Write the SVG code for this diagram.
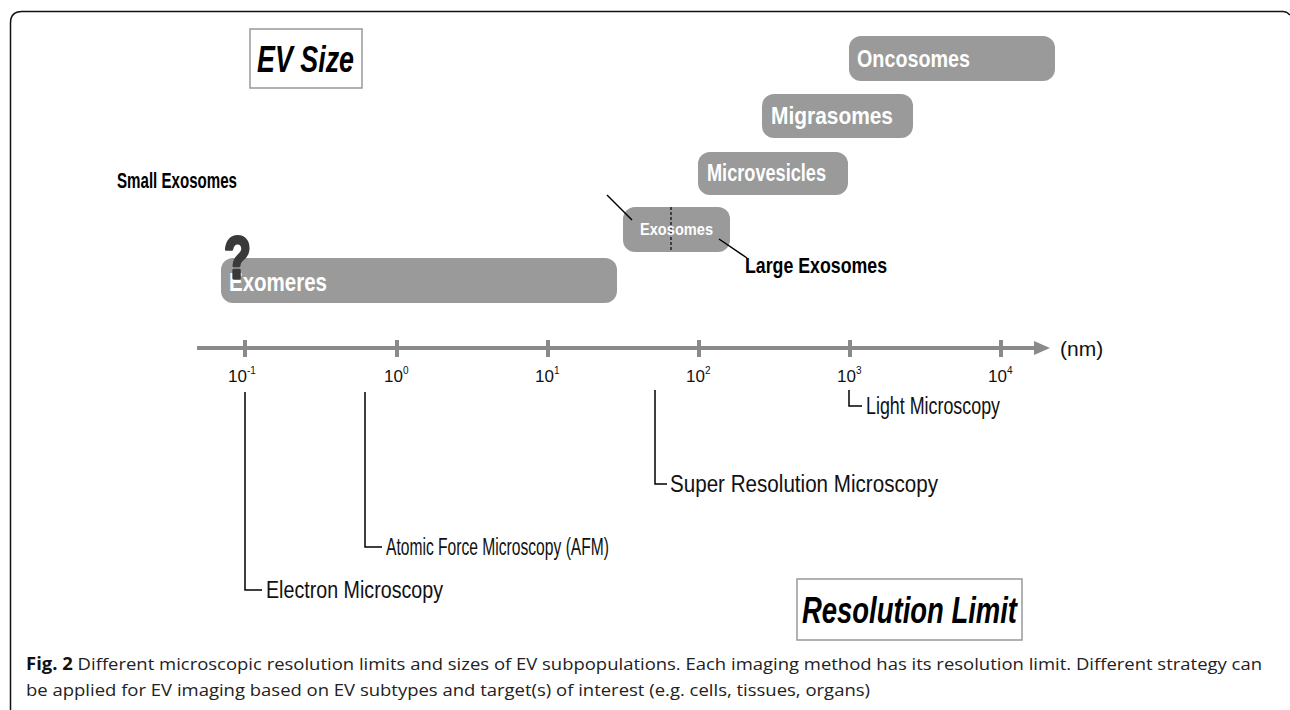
<svg xmlns="http://www.w3.org/2000/svg" width="1290" height="710" viewBox="0 0 1290 710">
<style>
.bar{fill:#9a9a9a}
.bt{font-family:"Liberation Sans",Arial,sans-serif;font-weight:bold;fill:#fff}
.lbl{font-family:"Liberation Sans",Arial,sans-serif;font-weight:bold;fill:#000}
.res{font-family:"Liberation Sans",Arial,sans-serif;fill:#111;font-size:23px}
.tick{font-family:"Liberation Sans",Arial,sans-serif;fill:#111;font-size:17px}
.ttl{font-family:"Liberation Sans",Arial,sans-serif;font-weight:bold;font-style:italic;fill:#000}
.box{fill:#fff;stroke:#999;stroke-width:1.5}
.br{fill:none;stroke:#000;stroke-width:1.5}
.ax{stroke:#8a8a8a;stroke-width:4;fill:none}
.cap{font-family:"Open Sans","Liberation Sans",sans-serif;font-size:17px;fill:#222}
.q{font-family:"Liberation Sans",Arial,sans-serif;font-weight:bold;font-size:60px;fill:#3a3a3a;stroke:#3a3a3a;stroke-width:3;stroke-linejoin:round}
.nm{font-family:"Liberation Sans",Arial,sans-serif;font-size:21px;fill:#111}
</style>
<rect width="1290" height="710" fill="#fff"/>
<path d="M10.5,710 V23 Q10.5,11.5 22,11.5 H1283 Q1287,11.5 1290,15" fill="none" stroke="#111" stroke-width="1.5"/>

<g id="ev-size">
<rect class="box" x="250" y="29" width="112" height="59"/>
<text class="ttl" x="257" y="72" font-size="37" textLength="97" lengthAdjust="spacingAndGlyphs">EV Size</text>
</g>

<g id="exomeres">
<rect class="bar" x="221" y="258" width="396" height="45" rx="12"/>
<text class="bt" x="229" y="291" font-size="25" textLength="98" lengthAdjust="spacingAndGlyphs">Exomeres</text>
<text class="q" x="224" y="278" textLength="27" lengthAdjust="spacingAndGlyphs">?</text>
</g>

<g id="exosomes">
<rect class="bar" x="623" y="207" width="107" height="45" rx="12"/>
<line x1="671" y1="207" x2="671" y2="252" stroke="#222" stroke-width="1.5" stroke-dasharray="3,2"/>
<text class="bt" x="640" y="235" font-size="17" textLength="73" lengthAdjust="spacingAndGlyphs">Exosomes</text>
</g>

<g id="small-exosomes">
<text class="lbl" x="117" y="188" font-size="22" textLength="120" lengthAdjust="spacingAndGlyphs">Small Exosomes</text>
</g>
<g id="large-exosomes">
<text class="lbl" x="745" y="273" font-size="22" textLength="142" lengthAdjust="spacingAndGlyphs">Large Exosomes</text>
</g>

<g id="microvesicles">
<rect class="bar" x="698" y="152" width="150" height="43" rx="12"/>
<text class="bt" x="707" y="181" font-size="23" textLength="119" lengthAdjust="spacingAndGlyphs">Microvesicles</text>
</g>
<g id="migrasomes">
<rect class="bar" x="762" y="94" width="151" height="44" rx="12"/>
<text class="bt" x="771" y="124" font-size="23" textLength="122" lengthAdjust="spacingAndGlyphs">Migrasomes</text>
</g>
<g id="oncosomes">
<rect class="bar" x="849" y="36" width="206" height="45" rx="12"/>
<text class="bt" x="857" y="67" font-size="24" textLength="113" lengthAdjust="spacingAndGlyphs">Oncosomes</text>
</g>

<g id="axis">
<line class="ax" x1="197" y1="348" x2="1036" y2="348"/>
<polygon points="1034,341 1050,348 1034,355" fill="#8a8a8a"/>
<g stroke="#8a8a8a" stroke-width="4">
<line x1="245" y1="340" x2="245" y2="357"/>
<line x1="397" y1="340" x2="397" y2="357"/>
<line x1="548" y1="340" x2="548" y2="357"/>
<line x1="699" y1="340" x2="699" y2="357"/>
<line x1="850" y1="340" x2="850" y2="357"/>
<line x1="1001" y1="340" x2="1001" y2="357"/>
</g>
<text class="tick" x="228" y="382">10<tspan font-size="10" dy="-8">-1</tspan></text>
<text class="tick" x="384" y="382">10<tspan font-size="10" dy="-8">0</tspan></text>
<text class="tick" x="535" y="382">10<tspan font-size="10" dy="-8">1</tspan></text>
<text class="tick" x="686" y="382">10<tspan font-size="10" dy="-8">2</tspan></text>
<text class="tick" x="837" y="382">10<tspan font-size="10" dy="-8">3</tspan></text>
<text class="tick" x="988" y="382">10<tspan font-size="10" dy="-8">4</tspan></text>
<text class="nm" x="1060" y="356">(nm)</text>
</g>

<g id="connectors">
<line class="br" x1="607" y1="195" x2="632" y2="220"/>
<line class="br" x1="719" y1="239" x2="747" y2="258"/>
<polyline class="br" points="245,392 245,590 262,590"/>
<polyline class="br" points="365,392 365,547 382,547"/>
<polyline class="br" points="655,390 655,484 667,484"/>
<polyline class="br" points="849,390 849,406 862,406"/>
</g>

<g id="electron">
<text class="res" x="266" y="598" textLength="177" lengthAdjust="spacingAndGlyphs">Electron Microscopy</text>
</g>
<g id="afm">
<text class="res" x="386" y="555" textLength="223" lengthAdjust="spacingAndGlyphs">Atomic Force Microscopy (AFM)</text>
</g>
<g id="super">
<text class="res" x="670" y="492" textLength="268" lengthAdjust="spacingAndGlyphs">Super Resolution Microscopy</text>
</g>
<g id="light">
<text class="res" x="866" y="414" textLength="134" lengthAdjust="spacingAndGlyphs">Light Microscopy</text>
</g>

<g id="resolution-limit">
<rect class="box" x="797" y="579" width="225" height="61"/>
<text class="ttl" x="802" y="623" font-size="37" textLength="215" lengthAdjust="spacingAndGlyphs">Resolution Limit</text>
</g>

<g id="caption">
<text class="cap" x="26" y="670" textLength="1236" lengthAdjust="spacingAndGlyphs"><tspan font-weight="bold" fill="#111">Fig. 2</tspan> Different microscopic resolution limits and sizes of EV subpopulations. Each imaging method has its resolution limit. Different strategy can</text>
<text class="cap" x="26" y="696" textLength="844" lengthAdjust="spacingAndGlyphs">be applied for EV imaging based on EV subtypes and target(s) of interest (e.g. cells, tissues, organs)</text>
</g>
</svg>
